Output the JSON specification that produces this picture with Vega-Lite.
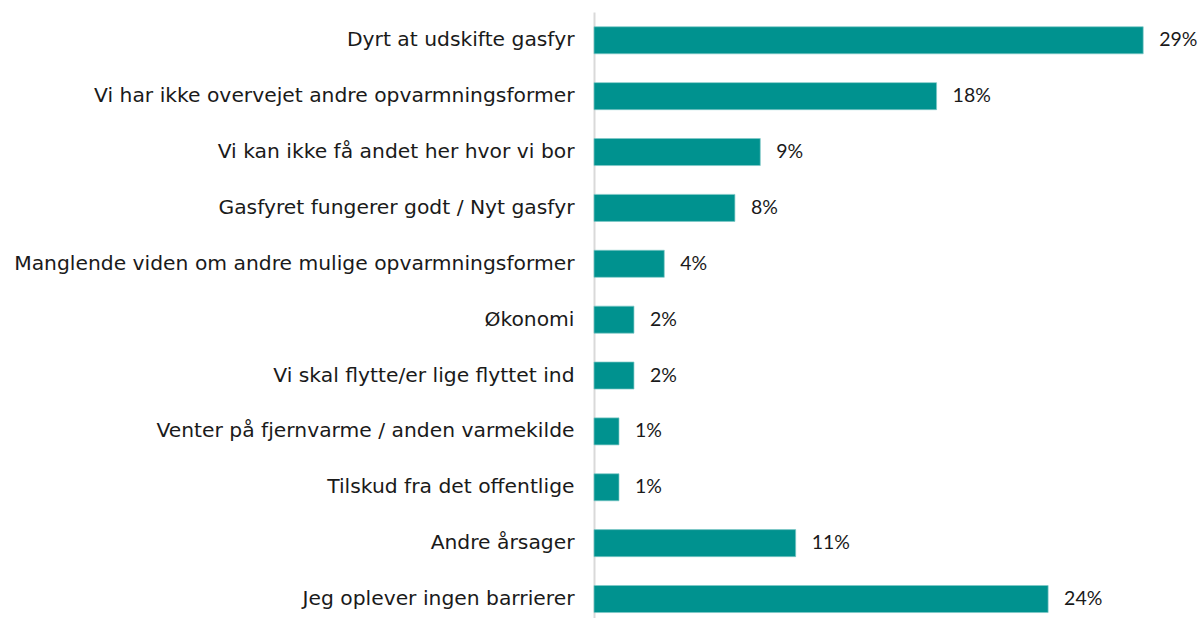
{
  "$schema": "https://vega.github.io/schema/vega-lite/v6.json",
  "width": 606,
  "height": 606,
  "autosize": {"type": "none"},
  "padding": {"left": 594, "top": 12, "right": 1, "bottom": 0},
  "background": "white",
  "config": {"view": {"stroke": null}, "font": "DejaVu Sans"},
  "data": {
    "values": [
      {"category": "Dyrt at udskifte gasfyr", "value": 29.0, "label": "29%"},
      {"category": "Vi har ikke overvejet andre opvarmningsformer", "value": 18.09, "label": "18%"},
      {"category": "Vi kan ikke få andet her hvor vi bor", "value": 8.78, "label": "9%"},
      {"category": "Gasfyret fungerer godt / Nyt gasfyr", "value": 7.44, "label": "8%"},
      {"category": "Manglende viden om andre mulige opvarmningsformer", "value": 3.71, "label": "4%"},
      {"category": "Økonomi", "value": 2.11, "label": "2%"},
      {"category": "Vi skal flytte/er lige flyttet ind", "value": 2.11, "label": "2%"},
      {"category": "Venter på fjernvarme / anden varmekilde", "value": 1.32, "label": "1%"},
      {"category": "Tilskud fra det offentlige", "value": 1.32, "label": "1%"},
      {"category": "Andre årsager", "value": 10.65, "label": "11%"},
      {"category": "Jeg oplever ingen barrierer", "value": 23.98, "label": "24%"}
    ]
  },
  "encoding": {
    "y": {
      "field": "category",
      "type": "nominal",
      "sort": null,
      "scale": {"paddingInner": 0.516, "paddingOuter": 0.181, "align": 0.73, "round": false},
      "axis": {
        "title": null,
        "ticks": false,
        "labelPadding": 20,
        "labelFontSize": 20.3,
        "labelColor": "#1a1a1a",
        "labelFont": "DejaVu Sans",
        "labelLimit": 700,
        "domainColor": "#d9d9d9",
        "domainWidth": 2,
        "grid": false
      }
    },
    "x": {
      "field": "value",
      "type": "quantitative",
      "scale": {"domain": [0, 32], "nice": false},
      "axis": null
    }
  },
  "layer": [
    {
      "mark": {"type": "bar", "color": "#00928f", "stroke": "#7fc9c7", "strokeWidth": 0.7}
    },
    {
      "mark": {"type": "text", "align": "left", "baseline": "middle", "dx": 16, "fontSize": 19.5, "color": "#1a1a1a", "font": "Lato"},
      "encoding": {"text": {"field": "label"}}
    }
  ]
}
